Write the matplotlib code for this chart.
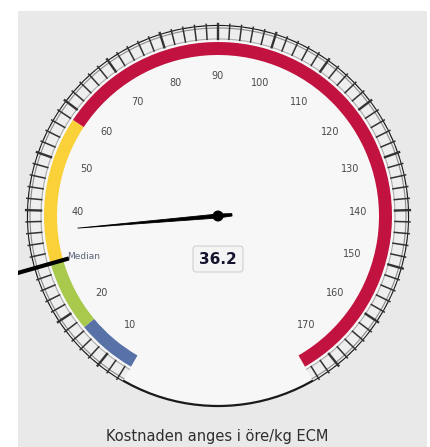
import matplotlib.pyplot as plt
import numpy as np
from matplotlib.patches import Wedge, Circle, Rectangle, FancyBboxPatch, Polygon

# gauge scale
scale_min, scale_max = 5, 175
start_angle, end_angle = -150, 150

# plot bands (from, to, colour)
band_from = [5, 16.5, 30, 58]
band_to = [16.5, 30, 58, 175]
band_colors = ['#5872a8', '#a9c94c', '#fbd13a', '#c2123f']

tick_labels = [10, 20, 40, 50, 60, 70, 80, 90, 100, 110, 120, 130, 140, 150, 160, 170]
median_value = 30
needle_value = 36.2
caption = 'Kostnaden anges i öre/kg ECM'

W, H = 431, 447
cx, cy = 218, H - 216


def gauge_angle(v):
    # degrees clockwise from straight up
    return start_angle + (v - scale_min) / (scale_max - scale_min) * (end_angle - start_angle)


def point(v, r):
    a = np.radians(gauge_angle(v))
    return cx + r * np.sin(a), cy + r * np.cos(a)


fig = plt.figure(figsize=(W / 100, H / 100), dpi=100)
fig.patch.set_facecolor('white')
ax = fig.add_axes([0, 0, 1, 1])
ax.set_xlim(0, W)
ax.set_ylim(0, H)
ax.set_aspect('equal')
ax.axis('off')

# grey panel behind the gauge
panel = Rectangle((18, 0), 409, H - 11, facecolor='#e9e9e9', edgecolor='none', zorder=0)
ax.add_patch(panel)

# gauge face
ax.add_patch(Circle((cx, cy), 190, facecolor='#f7f7f7', edgecolor='#1a1a1a', lw=1.6, zorder=1))
ax.add_patch(Wedge((cx, cy), 190, 90 - end_angle, 90 - start_angle, width=13,
                   facecolor='#eeeeee', edgecolor='none', zorder=1.5))
for r, c in [(177, '#aaaaaa'), (188, '#8a8a8a')]:
    th = np.radians(np.linspace(90 - end_angle, 90 - start_angle, 200))
    ax.plot(cx + r * np.cos(th), cy + r * np.sin(th), color=c, lw=0.8, zorder=1.6)

# ring ticks
for v in np.arange(6, 175, 2):
    x0, y0 = point(v, 177)
    x1, y1 = point(v, 192)
    major = v % 10 == 0
    ax.plot([x0, x1], [y0, y1], color='#333333', lw=1.7 if major else 1.1, zorder=2)

# coloured bands
for f, t, c in zip(band_from, band_to, band_colors):
    ax.add_patch(Wedge((cx, cy), 174, 90 - gauge_angle(t), 90 - gauge_angle(f), width=13,
                       facecolor=c, edgecolor='none', zorder=3))

# tick labels
for v in tick_labels:
    x, y = point(v, 140)
    ax.text(x, y, str(v), ha='center', va='center', fontsize=7, color='#4a4a4a', zorder=4)

# median line
mx0, my0 = point(median_value, 155)
mx1, my1 = point(median_value, 215)
ml, = ax.plot([mx0, mx1], [my0, my1], color='black', lw=3, solid_capstyle='butt', zorder=5)
ml.set_clip_path(panel)
ax.text(mx0 - 2, my0 + 2, 'Median', ha='left', va='center', fontsize=6.5, color='#5b6276', zorder=5)

# needle
a = np.radians(gauge_angle(needle_value))
ux, uy = np.sin(a), np.cos(a)
px, py = -uy, ux
tip = (cx + 141 * ux, cy + 141 * uy)
tail = (cx - 14 * ux, cy - 14 * uy)
needle = Polygon([tip,
                  (cx + 2 * px, cy + 2 * py),
                  (tail[0] + 1.2 * px, tail[1] + 1.2 * py),
                  (tail[0] - 1.2 * px, tail[1] - 1.2 * py),
                  (cx - 2 * px, cy - 2 * py)],
                 closed=True, facecolor='black', edgecolor='black', lw=0.6, zorder=6)
ax.add_patch(needle)
ax.add_patch(Circle((cx, cy), 5.5, facecolor='black', zorder=7))

# value box
ax.add_patch(FancyBboxPatch((cx - 25, H - 272), 50, 26, boxstyle='round,pad=0,rounding_size=3',
                            facecolor='#f4f4f4', edgecolor='#d0d0d0', lw=0.8, zorder=6))
ax.text(cx, H - 259, f'{needle_value:.1f}', ha='center', va='center', fontsize=11,
        fontweight='bold', color='#14142e', zorder=7)

# caption
ax.text(217, H - 437, caption, ha='center', va='center', fontsize=10.5, color='#2e2e2e')

fig.savefig('out.png', dpi=100)
